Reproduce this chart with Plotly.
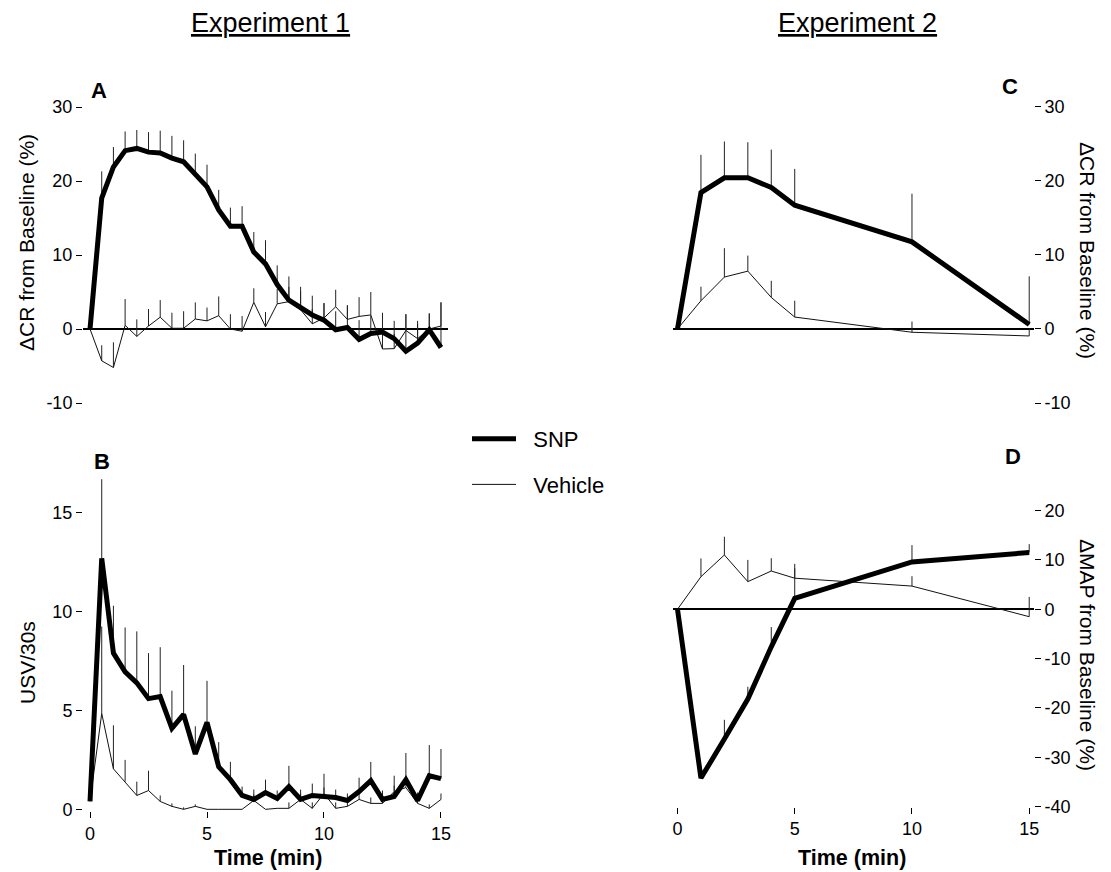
import plotly.graph_objects as go

# ---------------- data ----------------
TIME_EXP1 = [0, 0.5, 1, 1.5, 2, 2.5, 3, 3.5, 4, 4.5, 5, 5.5, 6, 6.5, 7, 7.5,
             8, 8.5, 9, 9.5, 10, 10.5, 11, 11.5, 12, 12.5, 13, 13.5, 14, 14.5, 15]

SNP_A = [0, 17.7, 21.9, 24.1, 24.4, 23.9, 23.8, 23.1, 22.6, 21.0, 19.2, 16.1, 13.9, 13.9, 10.4, 8.8,
         6.0, 3.9, 2.8, 1.9, 1.2, -0.1, 0.2, -1.4, -0.6, -0.4, -1.3, -3.0, -1.9, -0.1, -2.5]
SNP_A_ERR = [0, 3.6, 2.7, 2.6, 2.5, 2.7, 3.0, 3.0, 2.9, 2.7, 3.0, 2.7, 2.5, 2.7, 2.7, 3.2,
             2.6, 3.2, 2.9, 2.6, 2.3, 2.5, 3.0, 2.6, 2.4, 2.6, 2.4, 5.0, 3.0, 2.2, 6.1]
VEH_A = [0, -4.3, -5.2, 0.5, -1.0, 0.4, 1.6, 0.1, 0.1, 1.35, 1.1, 1.8, 0.0, -0.3, 3.6, 0.3,
         3.4, 3.7, 2.6, 0.7, 1.5, 3.0, 1.3, 1.7, 1.9, -2.7, -2.65, -0.2, -1.3, 0.0, 0.4]
VEH_A_ERR = [0, 2.1, 3.4, 3.55, 2.3, 2.3, 2.3, 2.1, 2.3, 2.25, 1.8, 2.6, 2.0, 2.05, 1.9, 2.0,
             2.0, 2.0, 2.5, 2.0, 2.0, 2.3, 1.9, 2.6, 3.1, 2.0, 2.0, 2.2, 2.0, 2.1, 3.2]

SNP_B = [0.4, 12.7, 7.9, 6.95, 6.4, 5.6, 5.7, 4.1, 4.8, 2.8, 4.4, 2.15, 1.5, 0.7, 0.5, 0.85,
         0.55, 1.15, 0.5, 0.7, 0.65, 0.6, 0.45, 0.9, 1.45, 0.5, 0.65, 1.5, 0.45, 1.7, 1.55]
SNP_B_ERR = [0, 4.0, 2.4, 2.25, 2.6, 2.3, 2.5, 1.9, 2.5, 1.4, 2.1, 1.25, 0.9, 0.45, 0.5, 0.65,
             0.4, 1.05, 0.5, 0.6, 1.15, 0.4, 0.35, 0.7, 0.95, 0.45, 1.05, 1.35, 0.4, 1.55, 1.5]
VEH_B = [0.4, 4.85, 2.05, 1.4, 0.7, 0.95, 0.4, 0.15, 0.0, 0.15, 0.0, 0.0, 0.0, 0.0, 0.45, 0.0,
         0.05, 0.05, 0.5, 0.05, 0.8, 0.05, 0.15, 0.5, 0.3, 0.3, 0.9, 1.1, 0.3, 0.05, 0.5]
VEH_B_ERR = [0, 4.4, 2.2, 1.1, 0.7, 1.0, 0.3, 0.15, 0.1, 0.1, 0, 0, 0, 0, 0.3, 0,
             0, 0.3, 0.3, 0.3, 0.3, 0.3, 0.2, 0.3, 0.3, 0.3, 0.3, 0.3, 0.3, 0.2, 0.3]

TIME_EXP2 = [0, 1, 2, 3, 4, 5, 10, 15]
SNP_C = [0, 18.4, 20.4, 20.4, 19.1, 16.7, 11.75, 0.6]
SNP_C_ERR = [0, 5.1, 4.9, 4.8, 5.1, 4.9, 6.5, 6.5]
VEH_C = [0, 3.8, 7.0, 7.8, 4.25, 1.6, -0.45, -0.95]
VEH_C_ERR = [0, 1.9, 3.9, 2.1, 2.25, 2.2, 1.45, 1.0]
SNP_D = [0, -34.2, -26.3, -18.2, -7.6, 2.2, 9.6, 11.5]
SNP_D_ERR = [0, 1.5, 3.9, 2.5, 4.0, 7.0, 3.4, 1.7]
VEH_D = [0, 6.6, 11.0, 5.6, 7.75, 6.3, 4.7, -1.5]
VEH_D_ERR = [0, 3.7, 3.7, 4.4, 2.6, 2.0, 2.0, 4.0]

TICKS_CR = [-10, 0, 10, 20, 30]
TICKS_USV = [0, 5, 10, 15]
TICKS_MAP = [-40, -30, -20, -10, 0, 10, 20]
TICKS_TIME = [0, 5, 10, 15]

# ---------------- layout helpers ----------------
W, H = 1111, 872
FONT = "Liberation Sans, Arial, Helvetica, sans-serif"


def fx(px):
    return px / W


def fy(py):
    return (H - py) / H


def labels(vals):
    return [str(v) for v in vals]  # plain hyphen-minus like the original


def err(vals):
    return dict(type="data", array=vals, arrayminus=[0] * len(vals), symmetric=False,
                width=0, thickness=1, color="#222")


fig = go.Figure()

panels = [
    ("x", "y", TIME_EXP1, SNP_A, SNP_A_ERR, VEH_A, VEH_A_ERR, True),
    ("x2", "y2", TIME_EXP1, SNP_B, SNP_B_ERR, VEH_B, VEH_B_ERR, False),
    ("x3", "y3", TIME_EXP2, SNP_C, SNP_C_ERR, VEH_C, VEH_C_ERR, False),
    ("x4", "y4", TIME_EXP2, SNP_D, SNP_D_ERR, VEH_D, VEH_D_ERR, False),
]
for xa, ya, t, snp, snp_e, veh, veh_e, show in panels:
    fig.add_trace(go.Scatter(x=t, y=veh, mode="lines", name="\u00a0\u00a0Vehicle", xaxis=xa, yaxis=ya,
                             line=dict(color="#111", width=1), error_y=err(veh_e),
                             showlegend=show, legendgroup="veh", legendrank=2))
    fig.add_trace(go.Scatter(x=t, y=snp, mode="lines", name="\u00a0\u00a0SNP", xaxis=xa, yaxis=ya,
                             line=dict(color="black", width=5), error_y=err(snp_e),
                             showlegend=show, legendgroup="snp", legendrank=1))

tickfont = dict(family=FONT, size=18, color="black")
common_x = dict(showgrid=False, zeroline=False, showline=False, tickfont=tickfont)
common_y = dict(showgrid=False, showline=False, tickfont=tickfont, ticks="outside",
                ticklen=6, tickwidth=1, tickcolor="black", zerolinecolor="black",
                zerolinewidth=1.5)

left_dom = [fx(83), fx(448)]
right_dom = [fx(672.8), fx(1033.9)]

fig.update_layout(
    width=W, height=H,
    margin=dict(l=0, r=0, t=0, b=0, autoexpand=False),
    paper_bgcolor="white", plot_bgcolor="white",
    font=dict(family=FONT, color="black"),
    xaxis=dict(domain=left_dom, range=[-0.3, 15.3], showticklabels=False, ticks="",
               anchor="y", **common_x),
    yaxis=dict(domain=[fy(403), fy(107)], range=[-10, 30], tickvals=TICKS_CR,
               ticktext=labels(TICKS_CR), zeroline=True, anchor="x", **common_y),
    xaxis2=dict(domain=left_dom, range=[-0.3, 15.3], tickvals=TICKS_TIME,
                ticktext=labels(TICKS_TIME), ticks="outside",
                ticklen=6, tickwidth=1, tickcolor="black", anchor="y2", **common_x),
    yaxis2=dict(domain=[fy(811.3), fy(469.3)], range=[-0.1, 17.2], tickvals=TICKS_USV,
                ticktext=labels(TICKS_USV), zeroline=False, anchor="x2", **common_y),
    xaxis3=dict(domain=right_dom, range=[-0.2, 15.2], showticklabels=False, ticks="",
                anchor="y3", **common_x),
    yaxis3=dict(domain=[fy(403), fy(106.7)], range=[-10, 30], tickvals=TICKS_CR,
                ticktext=labels(TICKS_CR), side="right", zeroline=True, anchor="x3",
                **common_y),
    xaxis4=dict(domain=right_dom, range=[-0.2, 15.2], tickvals=TICKS_TIME,
                ticktext=labels(TICKS_TIME), ticks="outside",
                ticklen=6, tickwidth=1, tickcolor="black", anchor="y4", **common_x),
    yaxis4=dict(domain=[fy(806.7), fy(500.7)], range=[-40, 22], tickvals=TICKS_MAP,
                ticktext=labels(TICKS_MAP), side="right", zeroline=True, anchor="x4",
                **common_y),
    legend=dict(x=fx(467), y=fy(418), xanchor="left", yanchor="top",
                font=dict(family=FONT, size=22, color="black"),
                bgcolor="rgba(0,0,0,0)", traceorder="grouped", tracegroupgap=14,
                itemwidth=44),
)


def ann(text, px, py, size=20, angle=0, bold=False):
    if bold:
        text = "<b>" + text + "</b>"
    fig.add_annotation(text=text, x=fx(px), y=fy(py), xref="paper", yref="paper",
                       xanchor="center", yanchor="middle", showarrow=False,
                       textangle=angle, font=dict(family=FONT, size=size, color="black"))


ann("<u>Experiment 1</u>", 270, 23, size=27)
ann("<u>Experiment 2</u>", 857, 23, size=27)
ann("A", 99, 91, size=22, bold=True)
ann("B", 102, 461, size=22, bold=True)
ann("C", 1010, 86, size=22, bold=True)
ann("D", 1013, 457, size=22, bold=True)
ann("ΔCR from Baseline (%)", 26, 243, size=21, angle=-90)
ann("USV/30s", 27, 663, size=21, angle=-90)
ann("ΔCR from Baseline (%)", 1088, 250, size=21, angle=90)
ann("ΔMAP from Baseline (%)", 1088, 655, size=21, angle=90)
ann("Time (min)", 268, 858, size=21.5, bold=True)
ann("Time (min)", 852, 858, size=21.5, bold=True)

fig.write_html(
    "out.html",
    config={"displayModeBar": False},
    post_script="document.body.style.margin='0';document.body.style.overflow='hidden';",
)
